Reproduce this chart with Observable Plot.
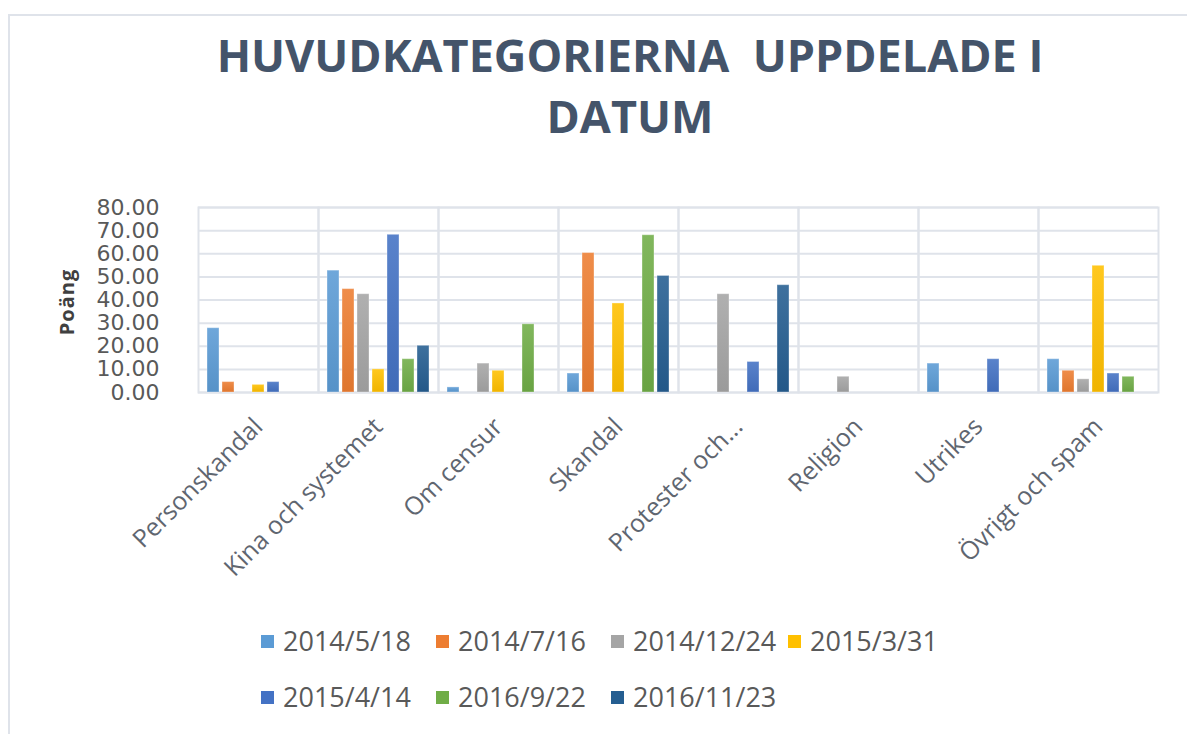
<!DOCTYPE html>
<html><head><meta charset="utf-8">
<script src="https://cdn.jsdelivr.net/npm/d3@7"></script>
<script src="https://cdn.jsdelivr.net/npm/@observablehq/plot@0.6"></script>
<style>
body{margin:0;background:#fff;width:1187px;height:734px;overflow:hidden;position:relative;font-family:"Open Sans",sans-serif}
#frame{position:absolute;left:8px;top:14px;width:1200px;height:740px;border-left:2px solid #dfe3ea;border-top:2px solid #dfe3ea;box-sizing:border-box}
#chart{position:absolute;left:0;top:0}
.t{position:absolute;left:0;width:1260px;text-align:center;font-weight:700;font-size:45px;line-height:61px;color:#44546a;white-space:pre}
#ylab{position:absolute;left:66px;top:302px;transform:translate(-50%,-50%) rotate(-90deg);font-weight:700;font-size:20px;letter-spacing:1px;color:#404040;white-space:nowrap}
.li{position:absolute;height:30px;display:flex;align-items:center;white-space:nowrap}
.sw{width:13px;height:13px;margin-right:9px}
.lt{font-family:"Open Sans",sans-serif;font-size:27px;color:#595959;line-height:30px}
</style></head>
<body>
<div id="frame"></div>
<div id="chart"></div>
<div class="t" style="top:24px">HUVUDKATEGORIERNA  UPPDELADE I</div>
<div class="t" style="top:85px">DATUM</div>
<div id="ylab">Poäng</div>
<div id="legend"></div>
<script>
const categories = ["Personskandal","Kina och systemet","Om censur","Skandal","Protester och...","Religion","Utrikes","Övrigt och spam"];
const series = ["2014/5/18","2014/7/16","2014/12/24","2015/3/31","2015/4/14","2016/9/22","2016/11/23"];
const colors = ["#5b9bd5","#ed7d31","#a5a5a5","#ffc000","#4472c4","#70ad47","#255e91"];
const v2014_5_18  = [27.8, 52.7, 2.2, 8.2, null, null, 12.5, 14.4];
const v2014_7_16  = [4.5, 44.7, null, 60.3, null, null, null, 9.4];
const v2014_12_24 = [null, 42.5, 12.5, null, 42.5, 6.8, null, 5.7];
const v2015_3_31  = [3.3, 10.0, 9.4, 38.5, null, null, null, 54.8];
const v2015_4_14  = [4.5, 68.2, null, null, 13.2, null, 14.4, 8.2];
const v2016_9_22  = [null, 14.4, 29.5, 68.0, null, null, null, 6.8];
const v2016_11_23 = [null, 20.2, null, 50.4, 46.4, null, null, null];
const yTicks = [0,10,20,30,40,50,60,70,80];

const valueLists = [v2014_5_18, v2014_7_16, v2014_12_24, v2015_3_31, v2015_4_14, v2016_9_22, v2016_11_23];
const data = [];
series.forEach((s, i) => categories.forEach((c, j) => {
  const v = valueLists[i][j];
  if (v != null) data.push({category: c, series: s, value: v});
}));

const lighten = (c, k) => d3.interpolateRgb(c, "#ffffff")(k);
const darken = (c, k) => d3.interpolateRgb(c, "#000000")(k);
const gradDefs = () => {
  const defs = d3.create("svg:defs");
  colors.forEach((c, i) => {
    const g = defs.append("linearGradient").attr("id", "grad" + i).attr("x1", 0).attr("x2", 0).attr("y1", 0).attr("y2", 1);
    g.append("stop").attr("offset", "0%").attr("stop-color", lighten(c, 0.12));
    g.append("stop").attr("offset", "100%").attr("stop-color", darken(c, 0.06));
  });
  return defs.node();
};

const grid = "#dfe3ea";
const chart = Plot.plot({
  width: 1187,
  height: 734,
  marginLeft: 197,
  marginRight: 29,
  marginTop: 207,
  marginBottom: 342,
  style: {fontFamily: "Open Sans, sans-serif", background: "transparent"},
  fx: {domain: categories, padding: 0, label: null, axis: null},
  x: {domain: series, paddingInner: 0.2, paddingOuter: 0.4, axis: null},
  y: {domain: [0, 80], axis: null},
  color: {domain: series, range: series.map((_, i) => `url(#grad${i})`)},
  marks: [
    gradDefs,
    Plot.gridY(yTicks, {stroke: grid, strokeOpacity: 1, strokeWidth: 2}),
    Plot.frame({stroke: grid, strokeWidth: 2}),
    Plot.barY(data, {fx: "category", x: "series", y: "value", fill: "series", stroke: "#ffffff", strokeOpacity: 0.35, strokeWidth: 1}),
    Plot.axisY(yTicks, {tickSize: 0, tickPadding: 39, tickFormat: d => d.toFixed(2), fontSize: 22, fontFamily: "DejaVu Sans", fill: "#595959", label: null}),
    Plot.axisFx({anchor: "bottom", tickRotate: -45, tickSize: 0, tickPadding: 30, fontSize: 25, fill: "#5f6670", label: null})
  ]
});
document.getElementById("chart").appendChild(chart);

const lx = [261, 436, 611, 788];
const legend = document.getElementById("legend");
series.forEach((s, i) => {
  const row = i < 4 ? 0 : 1;
  const col = i < 4 ? i : i - 4;
  const item = document.createElement("div");
  item.className = "li";
  item.style.left = lx[col] + "px";
  item.style.top = (row === 0 ? 626 : 682) + "px";
  item.innerHTML = `<div class="sw" style="background:${colors[i]}"></div><span class="lt"></span>`;
  item.querySelector(".lt").textContent = s;
  legend.appendChild(item);
});
</script>
</body></html>
